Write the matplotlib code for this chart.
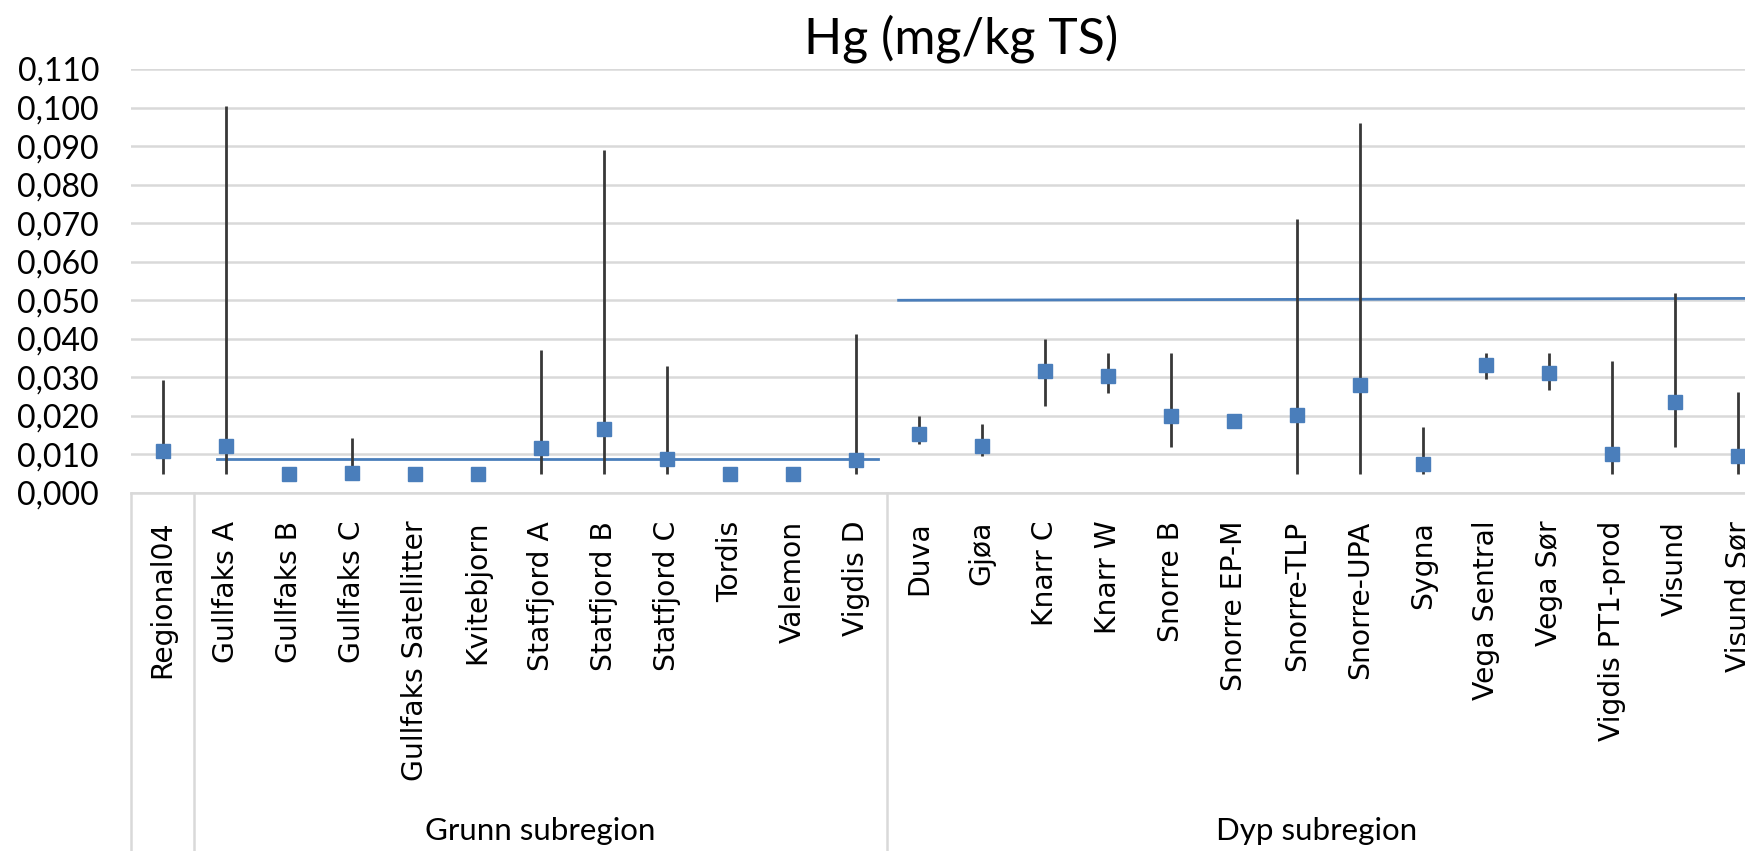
import matplotlib
matplotlib.use("Agg")
import matplotlib.pyplot as plt
import matplotlib.transforms as mtransforms

# ---- data ----
categories = [
    "Regional04",
    "Gullfaks A", "Gullfaks B", "Gullfaks C", "Gullfaks Satellitter", "Kvitebjorn",
    "Statfjord A", "Statfjord B", "Statfjord C", "Tordis", "Valemon", "Vigdis D",
    "Duva", "Gjøa", "Knarr C", "Knarr W", "Snorre B", "Snorre EP-M", "Snorre-TLP",
    "Snorre-UPA", "Sygna", "Vega Sentral", "Vega Sør", "Vigdis PT1-prod", "Visund",
    "Visund Sør",
]
mean_hg = [
    0.0109,
    0.0123, 0.0050, 0.0053, 0.0050, 0.0050,
    0.0117, 0.0165, 0.0087, 0.0050, 0.0050, 0.0086,
    0.0152, 0.0122, 0.0316, 0.0304, 0.0201, 0.0187, 0.0203,
    0.0279, 0.0074, 0.0331, 0.0311, 0.0100, 0.0236,
    0.0097,
]
min_hg = [
    0.0048,
    0.0048, 0.0050, 0.0053, 0.0050, 0.0050,
    0.0048, 0.0048, 0.0048, 0.0050, 0.0050, 0.0048,
    0.0126, 0.0097, 0.0226, 0.0260, 0.0119, 0.0170, 0.0048,
    0.0048, 0.0048, 0.0297, 0.0268, 0.0048, 0.0119,
    0.0048,
]
max_hg = [
    0.0292,
    0.1003, 0.0050, 0.0142, 0.0050, 0.0050,
    0.0372, 0.0890, 0.0329, 0.0050, 0.0050, 0.0412,
    0.0200, 0.0179, 0.0399, 0.0362, 0.0362, 0.0197, 0.0711,
    0.0961, 0.0171, 0.0362, 0.0362, 0.0342, 0.0520,
    0.0262,
]
groups = ["", "Grunn subregion", "Dyp subregion"]
group_sizes = [1, 11, 14]

# reference levels (blue lines): start/end category position and level
ref_x0 = [0.87, 11.68]
ref_x1 = [11.35, 25.6]
ref_y0 = [0.0088, 0.0500]
ref_y1 = [0.0088, 0.0505]

yticks = [i / 1000 for i in range(0, 111, 10)]

# ---- style ----
blue = "#4a7ebb"
whisker = "#383838"
grid = "#d9d9d9"
txt_font = ["Lato", "DejaVu Sans"]

fig = plt.figure(figsize=(17.45, 8.51), dpi=100)
W, H = 1745, 851
left, top, bottom = 131, 69, 493
xmax = 25.11
ax = fig.add_axes([left / W, 1 - bottom / H, 1 - left / W, (bottom - top) / H])

x = list(range(len(categories)))
ax.vlines(x, min_hg, max_hg, color=whisker, lw=2.0, zorder=3)
ax.plot(x, mean_hg, ls="none", marker="s", ms=10, color=blue, mec=blue,
        mew=1.0, zorder=4)
for a, b, c, d in zip(ref_x0, ref_x1, ref_y0, ref_y1):
    ax.plot([a, b], [c, d], color=blue, lw=2.0, zorder=2)

ax.set_xlim(-0.5, xmax)
ax.set_ylim(0, 0.110)
ax.set_yticks(yticks)
ax.set_yticklabels([f"{v:.3f}".replace(".", ",") for v in yticks],
                   fontsize=23, family=txt_font)
ax.yaxis.grid(True, color=grid, lw=1.8)
ax.set_axisbelow(True)
for s in ("top", "right", "left"):
    ax.spines[s].set_visible(False)
ax.spines["bottom"].set_color(grid)
ax.spines["bottom"].set_linewidth(1.8)
ax.tick_params(axis="y", length=0, pad=23)
ax.tick_params(axis="x", length=0, pad=20)
ax.set_xticks(x)
ax.set_xticklabels(categories, rotation=90, fontsize=20.3, family="DejaVu Sans",
                   ha="center", va="top")

# group separators and labels below the axis
trans = mtransforms.blended_transform_factory(ax.transData, ax.transAxes)
depth = -(H - bottom) / (bottom - top)
edge = -0.5
ax.plot([edge, edge], [0, depth], color=grid, lw=1.8, transform=trans, clip_on=False)
for name, n in zip(groups, group_sizes):
    right_edge = edge + n
    if right_edge < xmax:
        ax.plot([right_edge, right_edge], [0, depth], color=grid, lw=1.8,
                transform=trans, clip_on=False)
    if name:
        ax.text((edge + min(right_edge, xmax)) / 2, -(831 - bottom) / (bottom - top),
                name, transform=trans, ha="center", va="center", fontsize=22.5,
                family=txt_font)
    edge = right_edge

fig.text(0.551, 1 - 39 / H, "Hg (mg/kg TS)", ha="center", va="center",
         fontsize=36, family=txt_font)

fig.savefig("out.png", dpi=100)
